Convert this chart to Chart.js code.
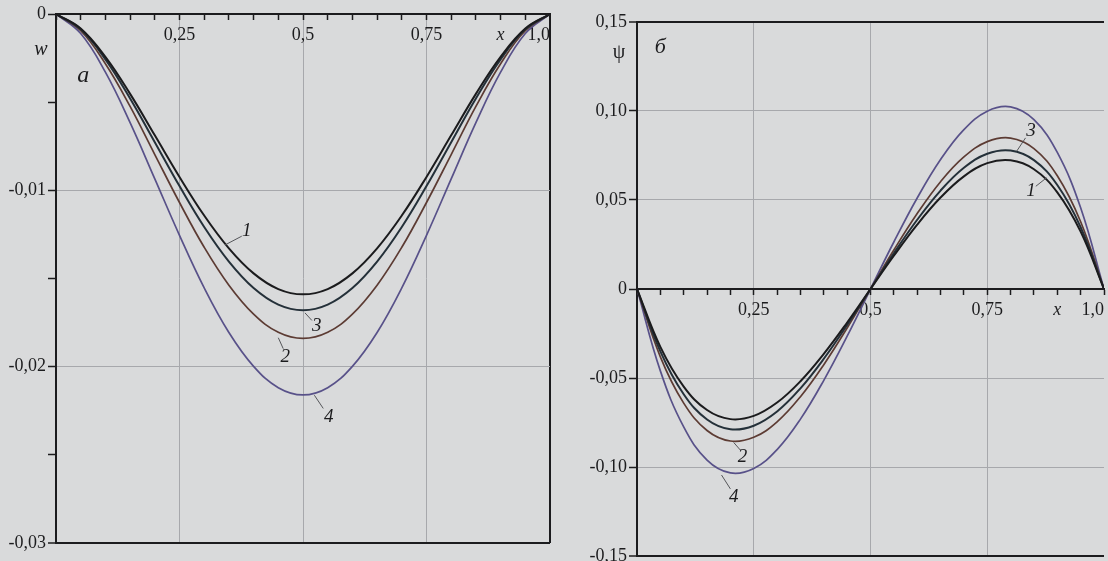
<!DOCTYPE html>
<html>
<head>
<meta charset="utf-8">
<script src="https://cdn.jsdelivr.net/npm/chart.js@4.4.0/dist/chart.umd.min.js"></script>
<style>
  html, body { margin: 0; padding: 0; background: #d9dadb; width: 1108px; height: 561px; overflow: hidden; }
  #left { position: absolute; left: 0; top: 0; }
  #right { position: absolute; left: 560px; top: 0; }
</style>
</head>
<body>
<canvas id="left" width="570" height="580"></canvas>
<canvas id="right" width="570" height="580"></canvas>
<script>
// x positions along the beam
const xs = [0, 0.05, 0.1, 0.15, 0.2, 0.25, 0.3, 0.35, 0.4, 0.45, 0.5, 0.55, 0.6, 0.65, 0.7, 0.75, 0.8, 0.85, 0.9, 0.95, 1.0];

// panel a: deflection w
const w1 = [0, -0.00082, -0.00243, -0.00453, -0.00688, -0.00924, -0.01143, -0.01329, -0.01471, -0.0156, -0.0159, -0.0156, -0.01471, -0.01329, -0.01143, -0.00924, -0.00688, -0.00453, -0.00243, -0.00082, 0];
const w3 = [0, -0.00087, -0.00257, -0.00479, -0.00727, -0.00976, -0.01208, -0.01404, -0.01554, -0.01648, -0.0168, -0.01648, -0.01554, -0.01404, -0.01208, -0.00976, -0.00727, -0.00479, -0.00257, -0.00087, 0];
const w2 = [0, -0.00095, -0.00282, -0.00524, -0.00797, -0.01069, -0.01323, -0.01538, -0.01702, -0.01805, -0.0184, -0.01805, -0.01702, -0.01538, -0.01323, -0.01069, -0.00797, -0.00524, -0.00282, -0.00095, 0];
const w4 = [0, -0.00111, -0.0033, -0.00616, -0.00935, -0.01255, -0.01553, -0.01806, -0.01998, -0.02119, -0.0216, -0.02119, -0.01998, -0.01806, -0.01553, -0.01255, -0.00935, -0.00616, -0.0033, -0.00111, 0];

// panel b: rotation psi
const psi1 = [0, -0.0325, -0.0548, -0.068, -0.0731, -0.0713, -0.0638, -0.0518, -0.0364, -0.0188, 0, 0.0187, 0.0362, 0.0514, 0.0633, 0.0707, 0.0723, 0.0673, 0.0543, 0.0322, 0];
const psi3 = [0, -0.035, -0.0591, -0.0733, -0.0788, -0.0768, -0.0688, -0.0558, -0.0392, -0.0202, 0, 0.0201, 0.0389, 0.0553, 0.0681, 0.076, 0.0778, 0.0724, 0.0584, 0.0347, 0];
const psi2 = [0, -0.0381, -0.0641, -0.0795, -0.0854, -0.0833, -0.0746, -0.0605, -0.0425, -0.0219, 0, 0.0219, 0.0424, 0.0603, 0.0742, 0.0828, 0.0848, 0.0789, 0.0636, 0.0378, 0];
const psi4 = [0, -0.046, -0.0775, -0.0961, -0.1033, -0.1008, -0.0902, -0.0731, -0.0513, -0.0265, 0, 0.0264, 0.0511, 0.0727, 0.0895, 0.0999, 0.1023, 0.0951, 0.0767, 0.0456, 0];

// ticks and their labels
const xTicks = xs;
const xTickLabels = ['', '', '', '', '', '0,25', '', '', '', '', '0,5', '', '', '', '', '0,75', '', '', 'x', '', '1,0'];
const wTicks = [-0.03, -0.025, -0.02, -0.015, -0.01, -0.005, 0];
const wTickLabels = ['-0,03', '', '-0,02', '', '-0,01', '', '0'];
const psiTicks = [-0.15, -0.1, -0.05, 0, 0.05, 0.1, 0.15];
const psiTickLabels = ['-0,15', '-0,10', '-0,05', '0', '0,05', '0,10', '0,15'];

const INK = '#1c1c1e';
const GRID = '#a7a8ac';
const NONE = 'rgba(0,0,0,0)';
const FONT = 'Liberation Serif';
const colors = { c1: '#1b1b1d', c3: '#243039', c2: '#5c3b33', c4: '#585189' };

const near = (a, b) => Math.abs(a - b) < 1e-9;

function gridStyle(gridVals, borderVals) {
  return {
    color: (c) => {
      const v = c.tick ? c.tick.value : NaN;
      if (borderVals.some(b => near(b, v))) return INK;
      if (gridVals.some(g => near(g, v))) return GRID;
      return NONE;
    },
    lineWidth: (c) => {
      const v = c.tick ? c.tick.value : NaN;
      return borderVals.some(b => near(b, v)) ? 2 : 1;
    }
  };
}

function series(ys, color, width) {
  return {
    data: xs.map((x, i) => ({ x: x, y: ys[i] })),
    borderColor: color,
    borderWidth: width,
    pointRadius: 0,
    tension: 0.4,
    fill: false
  };
}

// curve numbers, panel letters and axis symbols
const notesPlugin = {
  id: 'notes',
  afterDatasetsDraw(chart, args, opts) {
    const { ctx, scales: { x, y }, chartArea } = chart;
    ctx.save();
    ctx.fillStyle = INK;
    ctx.strokeStyle = '#55565a';
    ctx.lineWidth = 1;
    ctx.textAlign = 'center';
    ctx.textBaseline = 'middle';
    (opts.leaders || []).forEach(n => {
      ctx.beginPath();
      ctx.moveTo(x.getPixelForValue(n.from[0]), y.getPixelForValue(n.from[1]));
      ctx.lineTo(x.getPixelForValue(n.to[0]), y.getPixelForValue(n.to[1]));
      ctx.stroke();
      ctx.font = 'italic 19px "' + FONT + '"';
      ctx.fillText(n.text, x.getPixelForValue(n.at[0]), y.getPixelForValue(n.at[1]));
    });
    (opts.letters || []).forEach(n => {
      ctx.font = n.font;
      ctx.fillText(n.text, x.getPixelForValue(n.at[0]), y.getPixelForValue(n.at[1]));
    });
    (opts.symbols || []).forEach(n => {
      ctx.font = n.font;
      ctx.fillText(n.text, chartArea.left + n.dx, y.getPixelForValue(n.yv));
    });
    ctx.restore();
  }
};

function makeChart(id, sets, yTicks, yLabels, yGrid, yBorders, xGrid, xBorders, yWidth, pad, notes) {
  return new Chart(document.getElementById(id), {
    type: 'line',
    data: { datasets: sets },
    plugins: [notesPlugin],
    options: {
      responsive: false,
      animation: false,
      devicePixelRatio: 1,
      layout: { padding: pad },
      plugins: { legend: { display: false }, tooltip: { enabled: false }, notes: notes },
      scales: {
        x: {
          type: 'linear',
          min: 0, max: 1,
          position: { y: 0 },
          afterBuildTicks: (s) => { s.ticks = xTicks.map(v => ({ value: v })); },
          ticks: {
            autoSkip: false,
            maxRotation: 0,
            align: 'inner',
            padding: 5,
            color: INK,
            font: (c) => ({ family: FONT, size: 18, style: xTickLabels[c.index] === 'x' ? 'italic' : 'normal' }),
            callback: (v, i) => xTickLabels[i]
          },
          grid: Object.assign(gridStyle(xGrid, xBorders), { tickColor: INK, tickWidth: 1.5, tickLength: 5 }),
          border: { display: true, color: INK, width: 2 }
        },
        y: {
          type: 'linear',
          min: yTicks[0], max: yTicks[yTicks.length - 1],
          afterBuildTicks: (s) => { s.ticks = yTicks.map(v => ({ value: v })); },
          afterFit: (s) => { s.width = yWidth; },
          ticks: {
            autoSkip: false,
            padding: 2,
            color: INK,
            font: { family: FONT, size: 18 },
            callback: (v, i) => yLabels[i]
          },
          grid: Object.assign(gridStyle(yGrid, yBorders), { tickColor: INK, tickWidth: 1.5, tickLength: 8 }),
          border: { display: true, color: INK, width: 2 }
        }
      }
    }
  });
}

makeChart('left',
  [series(w1, colors.c1, 2), series(w3, colors.c3, 2), series(w2, colors.c2, 1.7), series(w4, colors.c4, 1.7)],
  wTicks, wTickLabels, [-0.01, -0.02], [-0.03], [0.25, 0.5, 0.75], [1.0], 56,
  { left: 0, top: 14, right: 20, bottom: 37 },
  {
    leaders: [
      { text: '1', at: [0.386, -0.0123], from: [0.376, -0.0126], to: [0.342, -0.0131] },
      { text: '3', at: [0.528, -0.01767], from: [0.518, -0.01738], to: [0.504, -0.01695] },
      { text: '2', at: [0.464, -0.01945], from: [0.46, -0.01898], to: [0.45, -0.01836] },
      { text: '4', at: [0.552, -0.02284], from: [0.541, -0.02237], to: [0.523, -0.02162] }
    ],
    letters: [{ text: 'а', at: [0.055, -0.0035], font: 'italic 24px "' + FONT + '"' }],
    symbols: [{ text: 'w', dx: -15, yv: -0.002, font: 'italic 20px "' + FONT + '"' }]
  });

makeChart('right',
  [series(psi1, colors.c1, 2), series(psi3, colors.c3, 2), series(psi2, colors.c2, 1.7), series(psi4, colors.c4, 1.7)],
  psiTicks, psiTickLabels, [-0.1, -0.05, 0.05, 0.1], [-0.15, 0.15], [0.25, 0.5, 0.75], [], 77,
  { left: 0, top: 22, right: 26, bottom: 24 },
  {
    leaders: [
      { text: '3', at: [0.8435, 0.0887], from: [0.832, 0.0849], to: [0.813, 0.0774] },
      { text: '1', at: [0.8435, 0.0548], from: [0.854, 0.0577], to: [0.877, 0.0625] },
      { text: '2', at: [0.226, -0.0945], from: [0.222, -0.0907], to: [0.207, -0.0862] },
      { text: '4', at: [0.207, -0.117], from: [0.2, -0.1123], to: [0.181, -0.1045] }
    ],
    letters: [{ text: 'б', at: [0.05, 0.136], font: 'italic 22px "' + FONT + '"' }],
    symbols: [{ text: 'ψ', dx: -18, yv: 0.133, font: '20px "' + FONT + '"' }]
  });
</script>
</body>
</html>
